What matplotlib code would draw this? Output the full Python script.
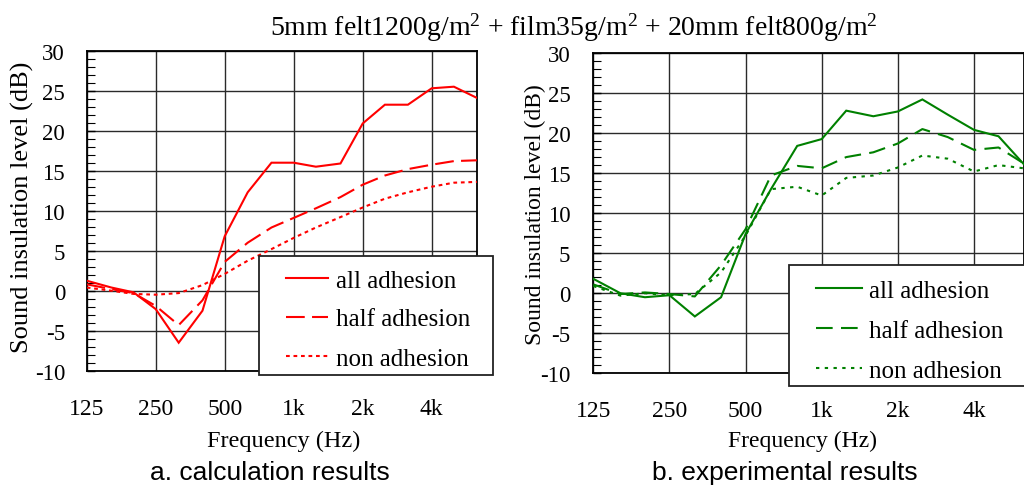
import matplotlib
matplotlib.use("Agg")
import matplotlib.pyplot as plt
from matplotlib.patches import Rectangle
from matplotlib.ticker import FixedLocator, MultipleLocator, NullLocator

W, H = 1024, 489
DPI = 100

freqs = [125, 160, 200, 250, 315, 400, 500, 630, 800, 1000, 1250, 1600,
         2000, 2500, 3150, 4000, 5000, 6300]

calc_all = [1.25, 0.4, -0.2, -2.3, -6.5, -2.5, 6.8, 12.3, 16.0, 16.0, 15.5, 15.9,
            20.9, 23.25, 23.25, 25.3, 25.5, 24.1]
calc_half = [0.8, 0.2, -0.3, -1.9, -4.3, -1.2, 3.6, 6.0, 7.9, 9.1, 10.3, 11.7,
             13.25, 14.4, 15.2, 15.75, 16.2, 16.3]
calc_non = [0.4, 0.0, -0.4, -0.5, -0.3, 0.7, 2.1, 3.75, 5.2, 6.6, 7.9, 9.2,
            10.4, 11.5, 12.3, 13.0, 13.5, 13.6]

exp_all = [1.8, 0.0, -0.5, -0.25, -2.9, -0.5, 7.4, 13.0, 18.4, 19.25, 22.8, 22.1,
           22.7, 24.2, 22.3, 20.4, 19.6, 16.1]
exp_half = [1.1, -0.1, 0.1, -0.1, -0.4, 3.5, 8.0, 14.7, 15.9, 15.6, 17.0, 17.6,
            18.7, 20.5, 19.5, 17.9, 18.2, 16.2]
exp_non = [0.9, -0.3, 0.0, -0.25, -0.1, 2.6, 7.2, 13.0, 13.3, 12.2, 14.4, 14.7,
           15.7, 17.2, 16.8, 15.2, 16.0, 15.6]

series_labels = ["all adhesion", "half adhesion", "non adhesion"]
xtick_vals = [125, 250, 500, 1000, 2000, 4000]
xtick_labels = ["125", "250", "500", "1k", "2k", "4k"]
ytick_vals = list(range(-10, 31, 5))

title = r"5mm felt1200g/m$^{2}$ + film35g/m$^{2}$ + 20mm felt800g/m$^{2}$"
ylabel = "Sound insulation level (dB)"
xlabel = "Frequency (Hz)"
sub_a = "a. calculation results"
sub_b = "b. experimental results"

SERIF = ["Liberation Serif", "DejaVu Serif"]
SANS = ["Liberation Sans", "DejaVu Sans"]
plt.rcParams["mathtext.fontset"] = "custom"
plt.rcParams["mathtext.rm"] = "Liberation Serif"
plt.rcParams["mathtext.it"] = "Liberation Serif:italic"


def fx(x):
    return x / W


def fy(y):
    return 1 - y / H


fig = plt.figure(figsize=(W / DPI, H / DPI), dpi=DPI)

ax1 = fig.add_axes([fx(86.7), fy(371.7), fx(476.9 - 86.7), (371.7 - 51.7) / H])
ax2 = fig.add_axes([fx(593.3), fy(374.3), fx(1023.9 - 593.3), (374.3 - 54.0) / H])

red = "#ff0000"
green = "#008000"
lw = 1.5
styles_calc = ["-", (0, (9.0, 3.5)), (0, (1.8, 1.8))]
styles_exp = ["-", (0, (8.0, 4.0)), (0, (1.6, 2.6))]

for ax, data, col, styles, pad in [
    (ax1, [calc_all, calc_half, calc_non], red, styles_calc, 15.6),
    (ax2, [exp_all, exp_half, exp_non], green, styles_exp, 16.5),
]:
    for vals, ls, lab in zip(data, styles, series_labels):
        ax.plot(freqs, vals, color=col, lw=lw, linestyle=ls, label=lab,
                solid_joinstyle="miter", zorder=3)
    ax.set_xscale("log", base=2)
    ax.set_xlim(125, 6300)
    ax.set_ylim(-10, 30)
    ax.xaxis.set_major_locator(FixedLocator(xtick_vals))
    ax.xaxis.set_minor_locator(NullLocator())
    ax.set_xticklabels(xtick_labels)
    ax.yaxis.set_major_locator(FixedLocator(ytick_vals))
    ax.yaxis.set_minor_locator(MultipleLocator(1))
    ax.set_yticklabels([str(v) for v in ytick_vals])
    ax.grid(True, which="major", color="#2a2a2a", lw=1.0)
    ax.tick_params(axis="x", which="both", length=0, pad=19.5,
                   labelsize=17, labelfontfamily=SERIF)
    ax.tick_params(axis="y", which="major", direction="in", length=6,
                   width=1.0, pad=pad, labelsize=16.5, labelfontfamily=SERIF)
    ax.tick_params(axis="y", which="minor", direction="in", length=6, width=0.8)
    for sp in ax.spines.values():
        sp.set_linewidth(1.3)
        sp.set_color("black")

# titles and labels
fig.text(fx(574), fy(28), title, ha="center", va="center",
         fontsize=20, family=SERIF)
fig.text(fx(22), fy(207.5), ylabel, rotation=90, ha="center", va="center",
         fontsize=19, family=SERIF)
fig.text(fx(535), fy(215), ylabel, rotation=90, ha="center", va="center",
         fontsize=17, family=SERIF)
fig.text(fx(284), fy(447), xlabel, ha="center", va="baseline",
         fontsize=17.5, family=SERIF)
fig.text(fx(802), fy(447), xlabel, ha="center", va="baseline",
         fontsize=17, family=SERIF)
fig.text(fx(270), fy(480), sub_a, ha="center", va="baseline",
         fontsize=19, family=SANS)
fig.text(fx(785), fy(480), sub_b, ha="center", va="baseline",
         fontsize=19, family=SANS)

# legend frames
fig.patches.append(Rectangle((fx(259), fy(376)), fx(493 - 259), (376 - 257) / H,
                             transform=fig.transFigure, facecolor="white",
                             edgecolor="#222222", lw=1.3, zorder=4))
fig.patches.append(Rectangle((fx(788.5), fy(387)), fx(1040 - 788.5), (387 - 266) / H,
                             transform=fig.transFigure, facecolor="white",
                             edgecolor="#222222", lw=1.3, zorder=4))

h1, l1 = ax1.get_legend_handles_labels()
leg1 = fig.legend(h1, l1, loc="upper left", bbox_to_anchor=(fx(286), fy(270)),
                  frameon=False, borderpad=0, borderaxespad=0,
                  handlelength=1.68, handletextpad=0.32, labelspacing=0.66,
                  prop={"family": SERIF, "size": 18})
leg1.set_zorder(6)
h2, l2 = ax2.get_legend_handles_labels()
leg2 = fig.legend(h2, l2, loc="upper left", bbox_to_anchor=(fx(816), fy(280.5)),
                  frameon=False, borderpad=0, borderaxespad=0,
                  handlelength=1.84, handletextpad=0.28, labelspacing=0.7,
                  prop={"family": SERIF, "size": 18})
leg2.set_zorder(6)

fig.savefig("out.png", dpi=DPI)
